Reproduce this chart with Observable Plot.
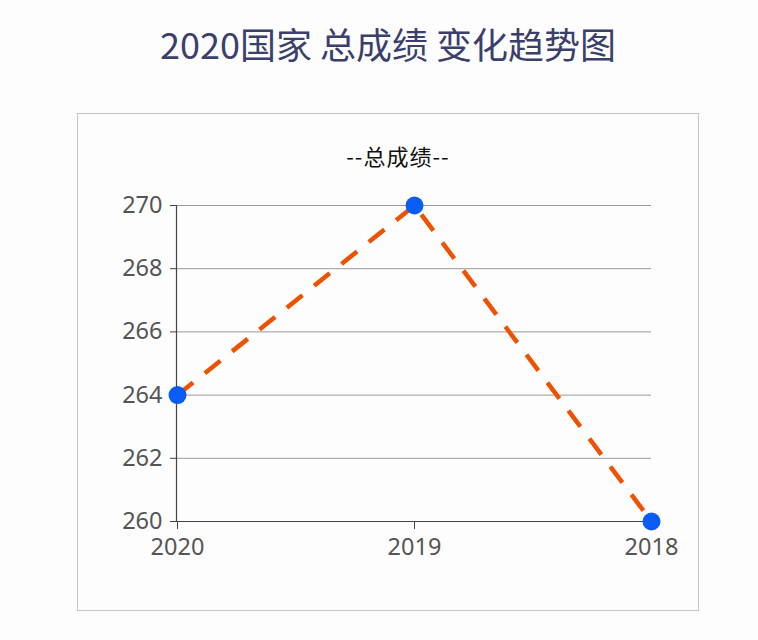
<!DOCTYPE html>
<html><head><meta charset="utf-8">
<script src="https://cdn.jsdelivr.net/npm/d3@7"></script>
<script src="https://cdn.jsdelivr.net/npm/@observablehq/plot@0.6"></script>
<style>
body{margin:0;background:#fdfdfe;font-family:"Noto Sans","Noto Sans CJK SC",sans-serif;}
#page{position:relative;width:758px;height:640px;}
#title{position:absolute;left:9px;top:19px;width:758px;text-align:center;font-size:36px;color:#3b3f6c;font-family:"Noto Sans CJK SC","Noto Sans",sans-serif;line-height:48px;}
#box{position:absolute;left:77px;top:113px;width:620px;height:496px;border:1px solid #c4c4c4;background:#fdfdfe;}
#sub{position:absolute;left:10px;top:26px;width:620px;text-align:center;font-size:22px;color:#111;font-family:"Noto Sans CJK SC","Noto Sans",sans-serif;line-height:30px;letter-spacing:1px;}
#chart{position:absolute;left:0;top:60px;}
#chart svg text{font-size:23.5px;}
</style></head>
<body><div id="page">
<div id="title">2020国家 总成绩 变化趋势图</div>
<div id="box"><div id="sub">--总成绩--</div><div id="chart"></div></div>
</div>
<script>
const years = ["2020", "2019", "2018"];
const scores = [264, 270, 260];
const yTicks = [260, 262, 264, 266, 268, 270];
const titleText = "2020国家 总成绩 变化趋势图";
const seriesName = "总成绩";

const data = years.map((y, i) => ({year: y, score: scores[i]}));
const W = 620, mL = 98, mR = 47, mT = 31, mB = 48;
const plot = Plot.plot({
  width: W, height: 395,
  marginLeft: mL, marginRight: mR, marginTop: mT, marginBottom: mB,
  style: {background: "transparent", fontFamily: "'Noto Sans', sans-serif", fontSize: "23.5px", color: "#555"},
  x: {type: "point", domain: years, padding: 0, label: null},
  y: {domain: [260, 270], label: null},
  marks: [
    Plot.gridY(yTicks, {stroke: "#999", strokeOpacity: 1, strokeWidth: 1}),
    Plot.ruleY([260], {stroke: "#444", strokeWidth: 1.2}),
    Plot.frame({anchor: "left", stroke: "#444", strokeWidth: 1.2}),
    Plot.axisY(yTicks, {tickSize: 6, tickPadding: 8, stroke: "#444", fill: "#555"}),
    Plot.axisX(years, {tickSize: 8, tickPadding: 9, stroke: "#444", fill: "#555"}),
    Plot.line(data, {x: "year", y: "score", stroke: "#ee5200", strokeWidth: 4.5, strokeDasharray: "20,15", strokeLinecap: "butt"}),
    Plot.dot(data, {x: "year", y: "score", r: 9, fill: "#0a5cf5", stroke: "none"})
  ]
});
document.getElementById("chart").appendChild(plot);
</script>
</body></html>
